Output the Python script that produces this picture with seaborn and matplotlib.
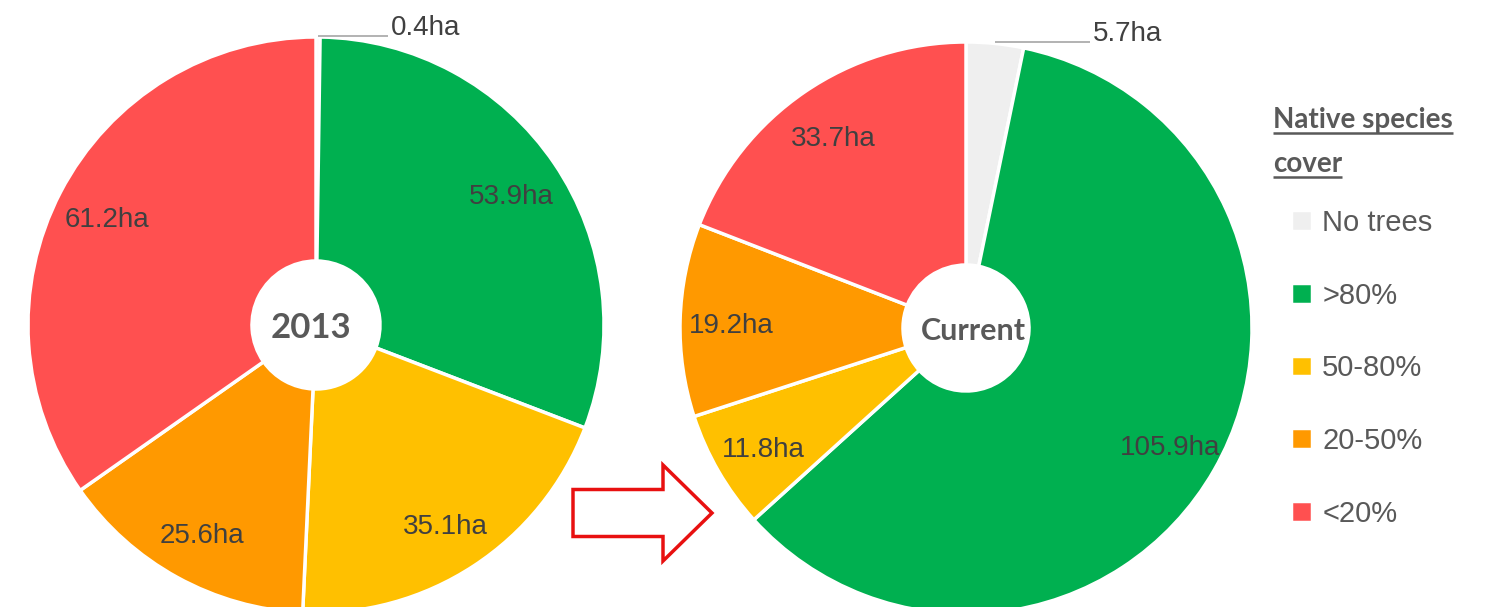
import matplotlib
matplotlib.use("Agg")
import matplotlib.pyplot as plt
import seaborn as sns
import numpy as np
from matplotlib.patches import FancyArrow

# ---------------- data ----------------
categories = ["No trees", ">80%", "50-80%", "20-50%", "<20%"]
values_2013 = [0.4, 53.9, 35.1, 25.6, 61.2]
values_current = [5.7, 105.9, 11.8, 19.2, 33.7]
labels_2013 = ["0.4ha", "53.9ha", "35.1ha", "25.6ha", "61.2ha"]
labels_current = ["5.7ha", "105.9ha", "11.8ha", "19.2ha", "33.7ha"]
pie_titles = ["2013", "Current"]
legend_title = ["Native species", "cover"]
colors = ["#EFEFEF", "#00B050", "#FFC000", "#FF9900", "#FF5050"]

sns.set_theme(style="white")
plt.rcParams["font.family"] = ["Liberation Sans", "DejaVu Sans"]

W, H = 1488, 607
fig = plt.figure(figsize=(W / 100, H / 100), dpi=100)
ax = fig.add_axes([0, 0, 1, 1])

label_color = "#404040"
gray_text = "#595959"

pies = [
    dict(values=values_2013, labels=labels_2013, title=pie_titles[0],
         center=(316, H - 325), radius=288, hole=64, tsize=25, tdx=-5, leader=70),
    dict(values=values_current, labels=labels_current, title=pie_titles[1],
         center=(966, H - 328), radius=286, hole=63, tsize=22, tdx=7, leader=95),
]

legend_handles = None
for p in pies:
    cx, cy = p["center"]
    r = p["radius"]
    wedges, _ = ax.pie(
        p["values"], colors=colors, startangle=90, counterclock=False,
        center=p["center"], radius=r, frame=True,
        wedgeprops=dict(width=r - p["hole"], edgecolor="white", linewidth=2.5),
    )
    if legend_handles is None:
        legend_handles = wedges
    total = sum(p["values"])
    for w, v, lab in zip(wedges, p["values"], p["labels"]):
        mid = np.deg2rad((w.theta1 + w.theta2) / 2)
        if v / total < 0.05:
            x0 = cx + r * np.cos(mid)
            y0 = cy + r * np.sin(mid) + 1
            x1 = x0 + p["leader"]
            ax.plot([x0, x1], [y0, y0], color="#A6A6A6", lw=1.2, solid_capstyle="butt")
            ax.text(x1 + 3, y0 + 1, lab, ha="left", va="baseline", fontsize=20,
                    color=label_color)
        else:
            d = 0.82 * r
            ax.text(cx + d * np.cos(mid), cy + d * np.sin(mid) - 4, lab, ha="center",
                    va="center", fontsize=20, color=label_color)
    ax.text(cx + p["tdx"], cy, p["title"], ha="center", va="center_baseline",
            fontsize=p["tsize"], fontweight="bold", family=["Lato", "DejaVu Sans"],
            color=gray_text)

# arrow between the two pies
arrow = FancyArrow(573, H - 513, 139, 0, width=47, head_width=96, head_length=49,
                   length_includes_head=True, facecolor="white", edgecolor="#E81010",
                   linewidth=2.5, zorder=5)
ax.add_patch(arrow)

ax.set_xlim(0, W)
ax.set_ylim(0, H)
ax.set_aspect("equal", adjustable="box")
ax.axis("off")

# legend title with underline
t1 = ax.text(1273, H - 128, legend_title[0], ha="left", va="baseline", fontsize=20,
             fontweight="bold", family=["Lato", "DejaVu Sans"], color=gray_text)
t2 = ax.text(1273, H - 172, legend_title[1], ha="left", va="baseline", fontsize=20,
             fontweight="bold", family=["Lato", "DejaVu Sans"], color=gray_text)

leg = fig.legend(legend_handles, categories, loc="upper left",
                 bbox_to_anchor=(1291 / W, 1 - 209 / H), frameon=False, fontsize=21,
                 labelcolor=gray_text, handlelength=0.72, handleheight=0.72,
                 handletextpad=0.35, labelspacing=1.53, borderpad=0, borderaxespad=0)

fig.canvas.draw()
renderer = fig.canvas.get_renderer()
for t, base in ((t1, H - 128), (t2, H - 172)):
    bb = t.get_window_extent(renderer)
    ax.plot([bb.x0, bb.x1], [base - 5, base - 5], color=gray_text, lw=1.8,
            solid_capstyle="butt")

fig.savefig("out.png", dpi=100, facecolor="white")
